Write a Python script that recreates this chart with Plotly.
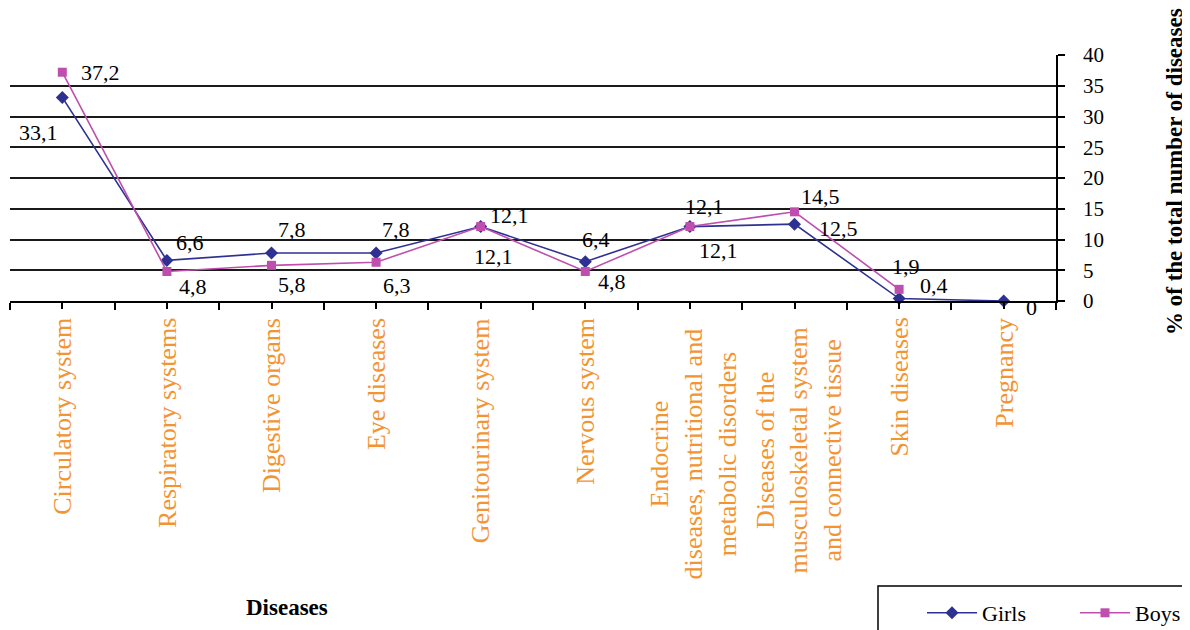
import plotly.graph_objects as go

categories = [
    "Circulatory system",
    "Respiratory systems",
    "Digestive organs",
    "Eye diseases",
    "Genitourinary system",
    "Nervous system",
    "Endocrine<br>diseases, nutritional and<br>metabolic disorders",
    "Diseases of the<br>musculoskeletal system<br>and connective tissue",
    "Skin diseases",
    "Pregnancy",
]
girls = [33.1, 6.6, 7.8, 7.8, 12.1, 6.4, 12.1, 12.5, 0.4, 0]
boys = [37.2, 4.8, 5.8, 6.3, 12.1, 4.8, 12.1, 14.5, 1.9]
y_ticks = [0, 5, 10, 15, 20, 25, 30, 35, 40]

# label offsets in pixels (dx right, dy down)
girls_off = [(-24, 35), (23, -18), (20, -24), (20, -24), (29, -11),
             (11, -22), (15, -20), (44, 4), (35, -13), (28, 6)]
boys_off = [(38, 0), (26, 15), (20, 19), (21, 23), (13, 30),
            (27, 10), (29, 24), (26, -15), (7, -23)]

GIRLS_C = "#2E3192"
BOYS_C = "#BE4FAE"
ORANGE = "#F39433"
SERIF = "Liberation Serif, Times New Roman, serif"

# page offset of the figure (body margin)
OFF = 8
L, R, T, B = 10, 1056, 55, 301   # plot area in page pixels
PW, PH = R - L, B - T


def px(xp):
    return (xp - L) / PW


def py(yp):
    return (B - yp) / PH


def fmt(v):
    return f"{v:g}".replace(".", ",")


fig = go.Figure()
fig.add_trace(go.Scatter(
    x=categories, y=girls, name="Girls", mode="lines+markers",
    line=dict(color=GIRLS_C, width=1.6),
    marker=dict(symbol="diamond", size=10, color=GIRLS_C),
    cliponaxis=False,
))
fig.add_trace(go.Scatter(
    x=categories[:len(boys)], y=boys, name="Boys", mode="lines+markers",
    line=dict(color=BOYS_C, width=1.6),
    marker=dict(symbol="square", size=9, color=BOYS_C),
    cliponaxis=False,
))
# invisible trace to carry the centre tick marks on the overlay axis
fig.add_trace(go.Scatter(
    x=categories, y=girls, xaxis="x2", mode="markers",
    marker=dict(opacity=0), hoverinfo="skip", showlegend=False,
))

annotations = []
for c, v, (dx, dy) in zip(categories, girls, girls_off):
    annotations.append(dict(x=c, y=v, xref="x", yref="y", text=fmt(v),
                            showarrow=False, xshift=dx, yshift=-dy,
                            font=dict(family=SERIF, size=22, color="black")))
for c, v, (dx, dy) in zip(categories, boys, boys_off):
    annotations.append(dict(x=c, y=v, xref="x", yref="y", text=fmt(v),
                            showarrow=False, xshift=dx, yshift=-dy,
                            font=dict(family=SERIF, size=22, color="black")))

# category labels
for c in categories:
    multi = "<br>" in c
    annotations.append(dict(
        x=c, xref="x", y=py(316), yref="paper",
        text=c, showarrow=False, textangle=-90, yanchor="top",
        xanchor="center", align="center",
        yshift=-10 if multi else 0, xshift=4 if multi else 0,
        font=dict(family=SERIF, size=26, color=ORANGE)))

# axis titles
annotations.append(dict(
    x=px(1174), xref="paper", y=py(172), yref="paper",
    text="<b>% of the total number of diseases</b>", showarrow=False,
    textangle=-90, xanchor="center", yanchor="middle",
    font=dict(family=SERIF, size=23, color="black")))
annotations.append(dict(
    x=px(287), xref="paper", y=py(607), yref="paper",
    text="<b>Diseases</b>", showarrow=False, xanchor="center", yanchor="middle",
    font=dict(family=SERIF, size=23, color="black")))

fig.update_layout(
    width=1190 - OFF, height=630 - OFF,
    margin=dict(l=L - OFF, r=1190 - R, t=T - OFF, b=630 - B, autoexpand=False),
    paper_bgcolor="white", plot_bgcolor="white",
    showlegend=True,
    legend=dict(orientation="h", x=px(922), y=py(613),
                xanchor="left", yanchor="middle", bgcolor="rgba(0,0,0,0)",
                font=dict(family=SERIF, size=22, color="black"),
                itemwidth=50, entrywidth=88, entrywidthmode="pixels",
                tracegroupgap=0),
    annotations=annotations,
    shapes=[dict(type="rect", xref="paper", yref="paper",
                 x0=px(878), x1=px(1300), y0=py(586), y1=py(700),
                 line=dict(color="black", width=1.5), fillcolor="rgba(0,0,0,0)")],
    xaxis=dict(type="category", categoryorder="array", categoryarray=categories,
               range=[-0.5, len(categories) - 0.5], tickson="boundaries",
               ticks="outside", ticklen=7, tickwidth=1.5, tickcolor="black",
               showticklabels=False, showgrid=False, zeroline=False,
               showline=True, linecolor="black", linewidth=1.5),
    xaxis2=dict(type="category", categoryorder="array", categoryarray=categories,
                overlaying="x", anchor="y", side="bottom",
                range=[-0.5, len(categories) - 0.5],
                ticks="outside", ticklen=7, tickwidth=1.5, tickcolor="black",
                showticklabels=False, showgrid=False, zeroline=False, showline=False),
    yaxis=dict(side="right", range=[0, 40], tickvals=y_ticks,
               ticktext=[str(t) for t in y_ticks],
               ticks="outside", ticklen=7, tickwidth=1.5, tickcolor="black",
               showline=True, linecolor="black", linewidth=1.5,
               showgrid=True, gridcolor="#1a1a1a", gridwidth=1.5,
               zeroline=False, ticklabelstandoff=14,
               tickfont=dict(family=SERIF, size=21, color="black")),
)

fig.write_html("out.html")
